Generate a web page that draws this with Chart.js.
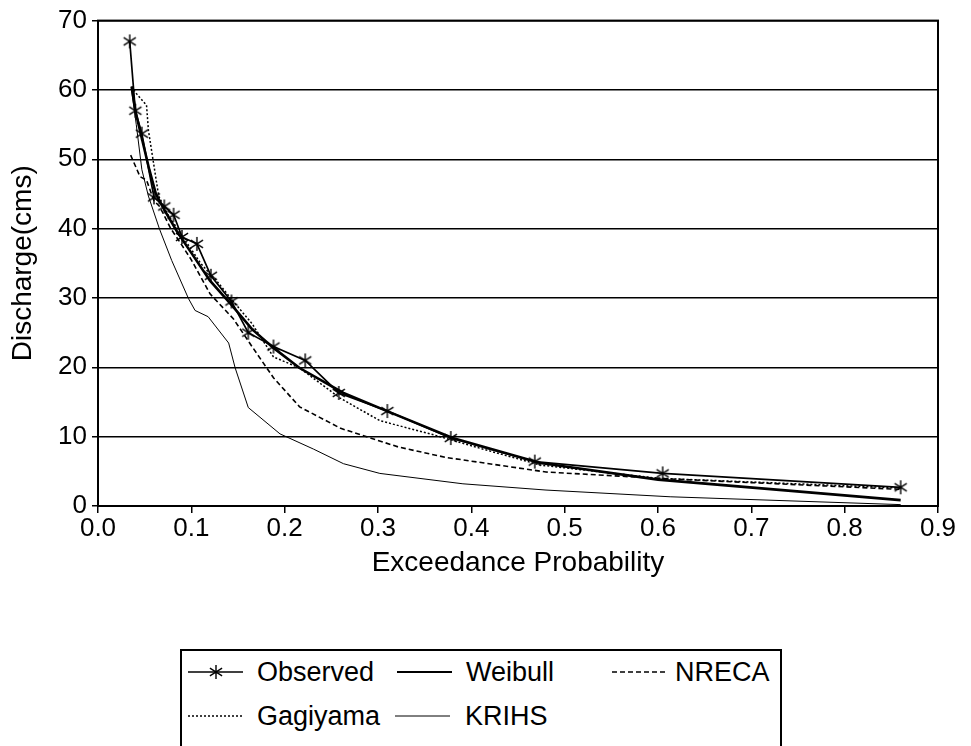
<!DOCTYPE html>
<html><head><meta charset="utf-8">
<script src="https://cdn.jsdelivr.net/npm/chart.js@4.4.1/dist/chart.umd.min.js"></script>
<style>
html,body{margin:0;padding:0;background:#fff;overflow:hidden;}
#wrap{position:absolute;left:0;top:0;width:971px;height:584px;}
#legendBox{position:absolute;left:180px;top:649px;width:598px;height:120px;border:2px solid #000;border-bottom:none;}
.lt{position:absolute;height:34px;line-height:34px;font-family:"Liberation Sans",Arial,sans-serif;font-size:27px;color:#000;white-space:nowrap;}
.ls{position:absolute;}
</style></head><body>
<div id="wrap"><canvas id="c"></canvas></div>
<div id="legendBox"></div>
<script>
// ---- data ----
const xTickLabels = ['0.0','0.1','0.2','0.3','0.4','0.5','0.6','0.7','0.8','0.9'];
const yTickLabels = ['0','10','20','30','40','50','60','70'];

const obsX = [0.034,0.040,0.047,0.060,0.071,0.081,0.090,0.106,0.121,0.143,0.161,0.188,0.222,0.258,0.310,0.378,0.468,0.605,0.860];
const obsY = [67.0,57.0,53.7,44.5,43.2,42.0,38.8,37.8,33.2,29.5,25.0,23.0,21.0,16.3,13.7,9.8,6.4,4.7,2.7];

const weiX = [0.036,0.040,0.047,0.055,0.062,0.072,0.085,0.100,0.120,0.143,0.165,0.188,0.216,0.263,0.313,0.380,0.474,0.600,0.860];
const weiY = [60.5,57.0,53.0,48.5,45.0,42.5,39.5,36.5,32.5,29.0,25.5,22.8,19.9,16.3,13.5,9.8,6.2,3.8,0.85];

const nreX = [0.035,0.045,0.052,0.060,0.066,0.078,0.088,0.100,0.120,0.145,0.165,0.188,0.216,0.260,0.322,0.373,0.480,0.613,0.860];
const nreY = [50.6,47.5,47.0,44.0,43.2,40.0,38.0,35.5,30.6,27.0,23.0,18.5,14.3,11.2,8.5,7.0,4.9,3.9,2.4];

const gagX = [0.036,0.041,0.052,0.054,0.059,0.065,0.075,0.090,0.110,0.130,0.145,0.165,0.188,0.216,0.259,0.302,0.356,0.410,0.474,0.600,0.860];
const gagY = [60.5,59.5,57.8,54.2,49.9,44.7,42.0,39.0,35.0,32.0,29.5,26.3,21.5,19.9,15.6,12.3,10.4,8.3,5.9,4.0,2.6];

const kriX = [0.036,0.041,0.047,0.054,0.066,0.079,0.097,0.104,0.118,0.140,0.147,0.161,0.195,0.231,0.263,0.302,0.391,0.480,0.613,0.750,0.860];
const kriY = [60.0,55.0,48.5,44.7,39.9,35.4,29.9,28.2,27.3,23.5,19.9,14.2,10.4,8.2,6.1,4.7,3.2,2.3,1.33,0.7,0.2];

const seriesNames = ['Observed','Weibull','NRECA','Gagiyama','KRIHS'];

// ---- styles ----
const FONT = '"Liberation Sans", Arial, sans-serif';
function asterisk(size){
  const c=document.createElement('canvas'); c.width=size; c.height=size;
  const g=c.getContext('2d'); g.strokeStyle='#000'; g.lineWidth=1.4;
  const m=size/2, r=size/2-1;
  g.beginPath();
  g.moveTo(m,m-r); g.lineTo(m,m+r);
  g.moveTo(m-r*0.87,m-r*0.55); g.lineTo(m+r*0.87,m+r*0.55);
  g.moveTo(m-r*0.87,m+r*0.55); g.lineTo(m+r*0.87,m-r*0.55);
  g.stroke();
  return c;
}
const star = asterisk(16);
const pts = (xs,ys)=>xs.map((x,i)=>({x:x,y:ys[i]}));
const styles = [
  {w:1.7, dash:[], marker:true},
  {w:2.6, dash:[]},
  {w:1.6, dash:[5,3]},
  {w:1.5, dash:[2,2]},
  {w:1.0, dash:[]}
];
const dataX=[obsX,weiX,nreX,gagX,kriX], dataY=[obsY,weiY,nreY,gagY,kriY];
const datasets = seriesNames.map((n,i)=>({
  label:n, data:pts(dataX[i],dataY[i]), showLine:true, fill:false,
  borderColor:'#000', backgroundColor:'#000', borderWidth:styles[i].w, borderDash:styles[i].dash,
  pointStyle: styles[i].marker ? star : 'circle', pointRadius: styles[i].marker ? 8 : 0,
  pointHoverRadius: styles[i].marker ? 8 : 0, tension:0, order:5-i
}));

const frame = {id:'frame', afterDatasetsDraw(ch){
  const a=ch.chartArea, g=ch.ctx; g.save(); g.strokeStyle='#000'; g.lineWidth=2;
  g.strokeRect(a.left,a.top,a.right-a.left,a.bottom-a.top); g.restore();
}};

new Chart(document.getElementById('c'), {
  type:'scatter',
  data:{datasets},
  options:{
    responsive:true, maintainAspectRatio:false, animation:false,
    layout:{padding:{left:0,right:33,top:16,bottom:0}},
    plugins:{legend:{display:false}, tooltip:{enabled:false}},
    scales:{
      x:{type:'linear', min:0, max:0.9,
        afterBuildTicks:s=>{s.ticks=xTickLabels.map(v=>({value:parseFloat(v)}));},
        afterFit:s=>{s.height=78;},
        ticks:{callback:(v,i)=>xTickLabels[i], color:'#000', font:{family:FONT,size:26}, padding:0, maxRotation:0, autoSkip:false},
        grid:{drawOnChartArea:false, drawTicks:true, tickLength:7, color:'#000', lineWidth:1.5},
        border:{display:true,color:'#000',width:2},
        title:{display:true,text:'Exceedance Probability',color:'#000',font:{family:FONT,size:28},padding:{top:0,bottom:4}}
      },
      y:{type:'linear', min:0, max:70,
        afterBuildTicks:s=>{s.ticks=yTickLabels.map(v=>({value:parseFloat(v)}));},
        afterFit:s=>{s.width=98;},
        ticks:{callback:(v,i)=>yTickLabels[i], color:'#000', font:{family:FONT,size:26}, padding:5, autoSkip:false},
        grid:{color:'#000', lineWidth:1.5, tickLength:6},
        border:{display:true,color:'#000',width:2},
        title:{display:true,text:'Discharge(cms)',color:'#000',font:{family:FONT,size:28},padding:{top:6,bottom:0}}
      }
    }
  },
  plugins:[frame]
});

// ---- legend (HTML, positioned like the reference) ----
const legendLayout = [
  {sx:188, sw:55, tx:257, cy:672},
  {sx:397, sw:55, tx:466, cy:672},
  {sx:612, sw:54, tx:675, cy:672},
  {sx:188, sw:54, tx:257, cy:716},
  {sx:395, sw:55, tx:465, cy:716}
];
seriesNames.forEach((n,i)=>{
  const L=legendLayout[i];
  const c=document.createElement('canvas'); c.className='ls'; c.width=L.sw; c.height=20;
  c.style.left=L.sx+'px'; c.style.top=(L.cy-10)+'px';
  const g=c.getContext('2d'); g.strokeStyle='#000'; g.lineWidth=Math.min(styles[i].w,2); g.setLineDash(styles[i].dash);
  g.beginPath(); g.moveTo(0,10); g.lineTo(L.sw,10); g.stroke();
  if(styles[i].marker){ g.setLineDash([]); g.drawImage(star,Math.round(L.sw/2)-8,10-8); }
  document.body.appendChild(c);
  const s=document.createElement('div'); s.className='lt'; s.textContent=n;
  s.style.left=L.tx+'px'; s.style.top=(L.cy-17)+'px';
  document.body.appendChild(s);
});
</script>
</body></html>
